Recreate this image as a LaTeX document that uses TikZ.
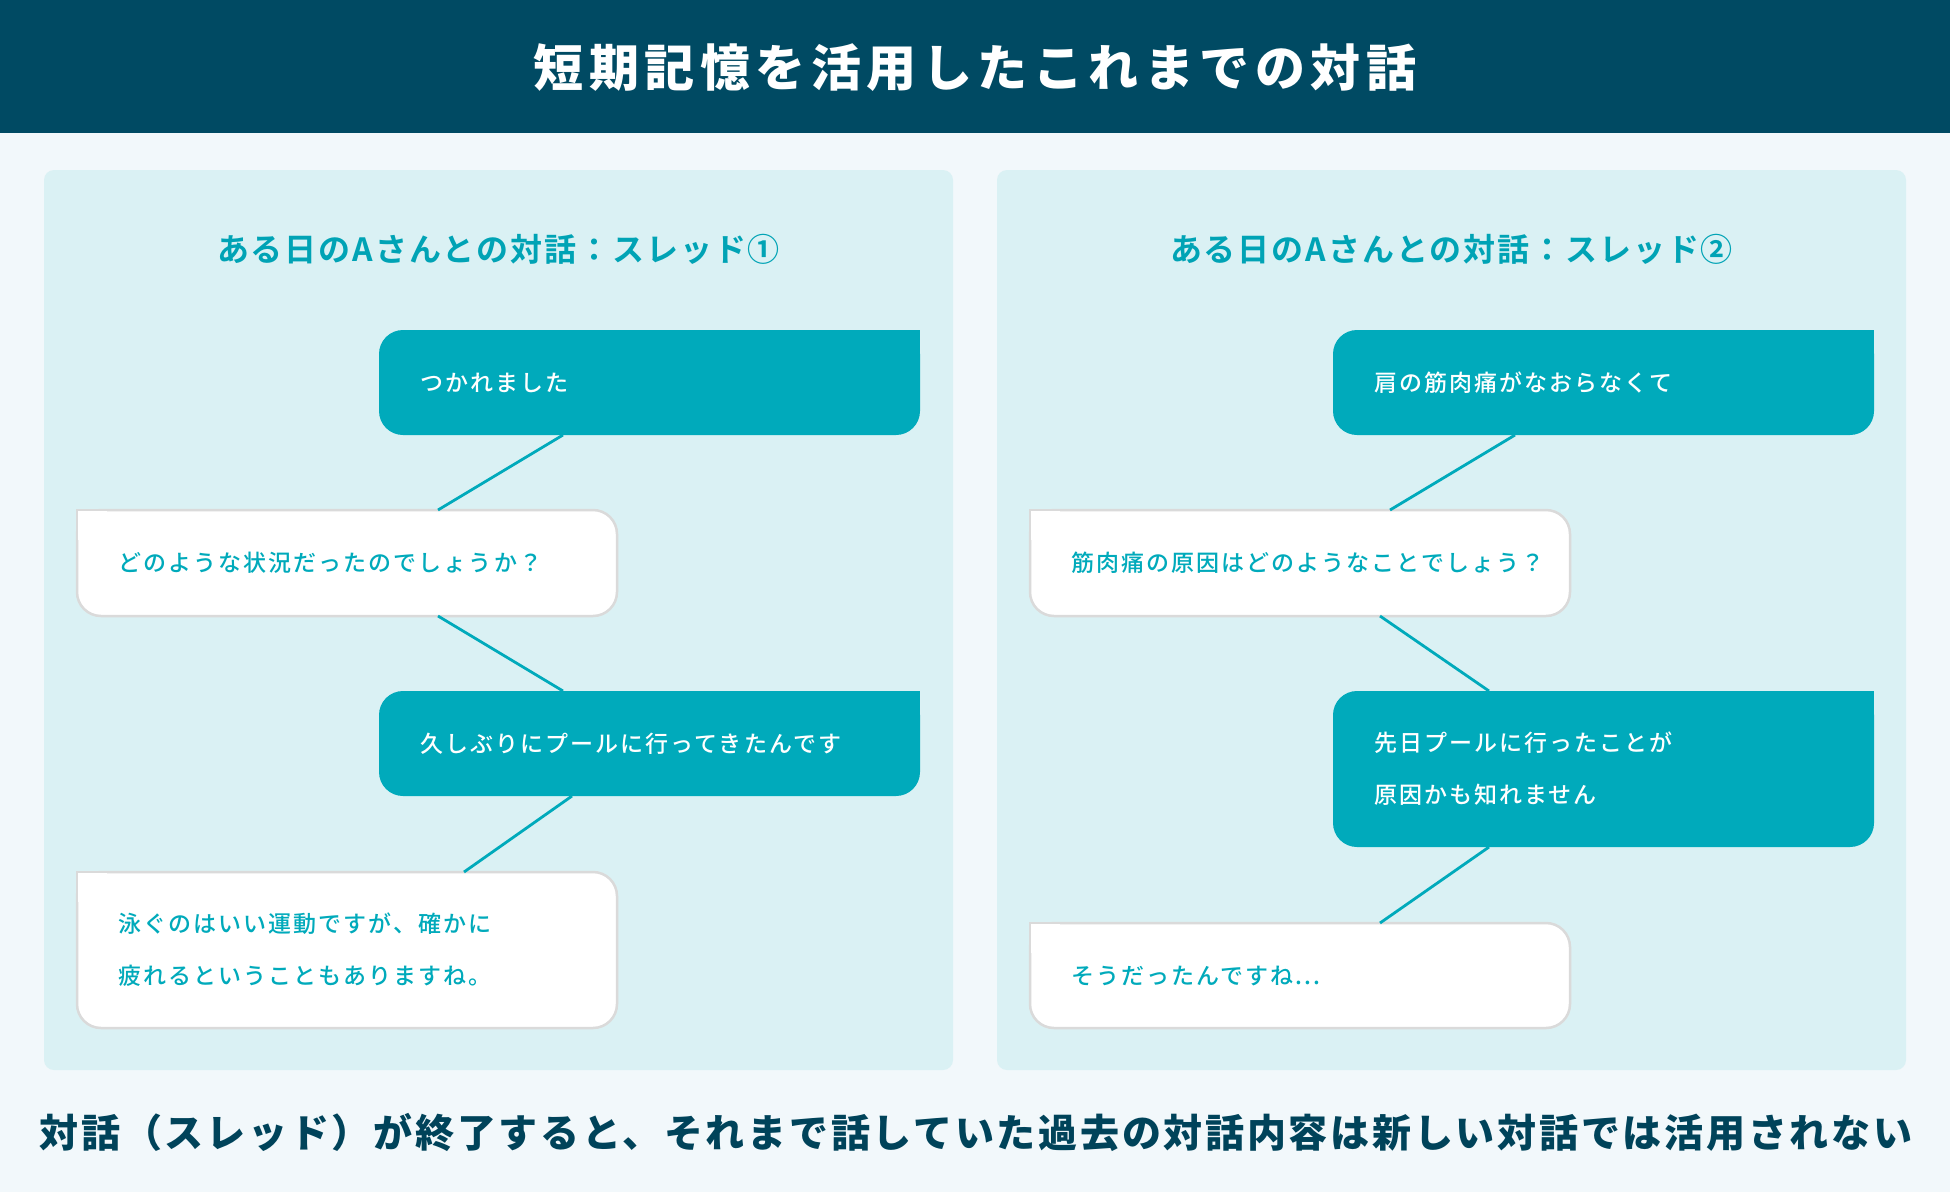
\documentclass[tikz,border=0pt]{standalone}
\usepackage{fontspec}
\usetikzlibrary{calc}
\newfontfamily\jpbody[LetterSpace=9]{Noto Sans CJK JP Medium}
\newfontfamily\jphead[LetterSpace=11]{Noto Sans CJK JP Black}
\newfontfamily\jpsub[LetterSpace=6]{Noto Sans CJK JP Bold}
\newfontfamily\jpfoot[LetterSpace=7]{Noto Sans CJK JP Black}
\definecolor{cbg}{HTML}{F2F8FB}
\definecolor{cheader}{HTML}{004A63}
\definecolor{cpanel}{HTML}{DAF1F4}
\definecolor{cteal}{HTML}{00AABB}
\definecolor{ctitle}{HTML}{00A3B5}
\definecolor{cborder}{HTML}{DADADA}
\definecolor{cfoot}{HTML}{00435A}
\begin{document}
\begin{tikzpicture}[x=1pt,y=-1pt,
  panel/.style={rectangle, rounded corners=10pt, fill=cpanel, minimum width=909pt, minimum height=900pt, outer sep=0pt, inner sep=0pt},
  bubble/.style={rectangle, rounded corners=24pt, outer sep=0pt, inner xsep=41pt, inner ysep=0pt, align=left, font=\jpbody\fontsize{23}{52}\selectfont},
  tealbubble/.style={bubble, fill=cteal, text=white, text width=459pt, minimum width=541pt},
  whitebubble/.style={bubble, fill=white, draw=cborder, line width=2.5pt, text=cteal, text width=458pt, minimum width=540pt},
  conn/.style={draw=cteal, line width=2.8pt},
  bord/.style={draw=cborder, line width=2.5pt}
]
\useasboundingbox (0,0) rectangle (1950,1192);
\fill[cbg] (0,0) rectangle (1950,1192);
\fill[cheader] (0,0) rectangle (1950,133);
\node[text=white, font=\jphead\fontsize{50}{54}\selectfont] (title) at (975,68) {短期記憶を活用したこれまでの対話};

\node[panel] (pl) at (498.5,620) {};
\node[panel] (pr) at (1451.5,620) {};

\node[text=ctitle, font=\jpsub\fontsize{32}{36}\selectfont] (tl) at (498.5,249) {ある日のAさんとの対話：スレッド①};
\node[text=ctitle, font=\jpsub\fontsize{32}{36}\selectfont] (tr) at (1451.5,249) {ある日のAさんとの対話：スレッド②};

% left thread
\node[tealbubble, minimum height=105pt] (L1) at (649.5,382.5) {つかれました};
\node[whitebubble, minimum height=106pt] (L2) at (347,563) {どのような状況だったのでしょうか？};
\node[tealbubble, minimum height=105pt] (L3) at (649.5,743.5) {久しぶりにプールに行ってきたんです};
\node[whitebubble, minimum height=156pt] (L4) at (347,950) {泳ぐのはいい運動ですが、確かに\\疲れるということもありますね。};

% right thread
\node[tealbubble, minimum height=105pt] (R1) at (1603.5,382.5) {肩の筋肉痛がなおらなくて};
\node[whitebubble, minimum height=106pt] (R2) at (1300,563) {筋肉痛の原因はどのようなことでしょう？};
\node[tealbubble, minimum height=156pt] (R3) at (1603.5,769) {先日プールに行ったことが\\原因かも知れません};
\node[whitebubble, minimum height=105pt] (R4) at (1300,975.5) {そうだったんですね...};

% square corners
\foreach \b in {L1,L3,R1,R3}{
  \fill[cteal] (\b.north east) rectangle ++(-30,30);
}
\foreach \b in {L2,L4,R2,R4}{
  \fill[white] (\b.north west) rectangle ++(30,30);
  \draw[bord] ($(\b.north west)+(0,30)$) -- (\b.north west) -- ++(30,0);
}

% connectors
\draw[conn] ([xshift=184pt]L1.south west) -- ([xshift=361pt]L2.north west);
\draw[conn] ([xshift=361pt]L2.south west) -- ([xshift=184pt]L3.north west);
\draw[conn] ([xshift=193pt]L3.south west) -- ([xshift=387pt]L4.north west);
\draw[conn] ([xshift=182pt]R1.south west) -- ([xshift=360pt]R2.north west);
\draw[conn] ([xshift=350pt]R2.south west) -- ([xshift=156pt]R3.north west);
\draw[conn] ([xshift=156pt]R3.south west) -- ([xshift=350pt]R4.north west);

\node[text=cfoot, font=\jpfoot\fontsize{39}{42}\selectfont] (foot) at (976,1132) {対話（スレッド）が終了すると、それまで話していた過去の対話内容は新しい対話では活用されない};
\end{tikzpicture}
\end{document}
